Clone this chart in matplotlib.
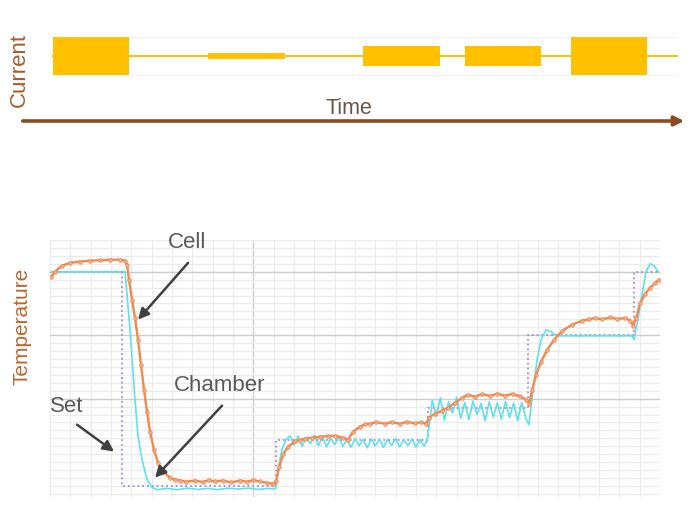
import matplotlib

matplotlib.use("Agg")
import matplotlib.pyplot as plt
import numpy as np

plt.rcParams["font.family"] = ["Liberation Sans", "DejaVu Sans"]

# ---- top panel: current pulses (time in minutes, current relative) --------
PULSE_START = [3.4, 155.5, 308.0, 408.4, 512.7]
PULSE_END = [77.7, 231.2, 383.8, 483.1, 587.4]
PULSE_AMP = [1.0, 0.16, 0.55, 0.55, 1.0]
IDLE_SPAN = [3.4, 617.0]

# ---- bottom panel: temperatures (deg C) ------------------------------------
SET_T = [0, 71, 71, 222, 222, 372, 372, 470, 470, 574, 574, 600]
SET_TEMP = [40, 40, -27.5, -27.5, -13, -13, -3, -3, 20, 20, 40, 40]

CHAMBER_T = [0, 72, 73.8, 78.7, 83.6, 86.6, 90.5, 95.4, 100.3, 105.3,
             115, 125, 135, 145, 155, 165, 175, 185, 195, 205, 215, 222,
             224.3, 228.2, 232.1, 236.1,
             240, 244, 248, 252, 256, 260, 264, 268, 272, 276, 280, 284, 288,
             292, 296, 300, 304, 308, 312, 316, 320, 324, 328, 332, 336, 340,
             344, 348, 352, 356, 360, 364, 368, 371,
             374, 376, 380, 384, 388, 392, 396, 400, 404, 408, 412, 416, 420,
             424, 428, 432, 436, 440, 444, 448, 452, 456, 460, 464, 468,
             471.1, 475.2, 479.1, 483.0, 488.0, 492.9, 497.8, 572.5,
             574.4, 578.3, 582.3, 586.2, 590.2, 594.1, 598.1]
CHAMBER_TEMP = [40, 40, 40, 21.7, -0.3, -12, -19.2, -25.5, -28, -28.7,
                -28.3, -28.7, -28.2, -28.6, -28.3, -28.7, -28.2, -28.5, -28.2,
                -28.6, -28.3, -28.4,
                -22.4, -16, -12.9, -11.7,
                -14.6, -11.8, -15.0, -12.2, -14.2, -11.5, -14.8, -12.0, -15.2,
                -12.4, -14.5, -12.1, -15.0, -13.0, -15.3, -12.6, -14.8, -12.9,
                -15.5, -12.7, -14.9, -12.8, -15.4, -12.9, -14.7, -12.6, -15.2,
                -13.0, -14.8, -12.7, -15.3, -12.9, -15.0, -13.0,
                -6.0, -0.5, -5.5, 0.3, -6.8, -1.0, -4.5, 0.5, -6.2, -1.2, -6.6,
                -0.8, -5.0, -1.5, -6.9, -1.0, -5.8, -1.3, -6.5, -0.9, -6.0,
                -1.4, -7.0, -1.2, -6.2,
                -8.2, 2.8, 12.3, 18.6, 21.7, 21.1, 19.8, 19.8,
                18.6, 24.9, 32.8, 40.0, 42.5, 41.9, 40.0]

CELL_T = [1.0, 4.9, 11.8, 19.7, 29.5, 39.4, 49.2, 59.0, 68.9, 73.8, 75.8,
          77.7, 80.7, 83.6, 86.6, 89.5, 92.5, 95.4, 98.4, 102.3, 106.3, 111.2,
          118.1, 123.0, 127.9, 134.0, 142.7, 150.0, 156.0, 162.4, 170.0,
          178.0, 187.0, 194.0, 200.0, 206.6, 213.0, 219.4, 222.4,
          225.3, 229.3, 234.2, 241.1, 246.0, 250.9, 258.0, 265.7, 273.0,
          280.4, 288.3, 293.2, 298.2, 305.0, 310.0, 314.9, 321.0, 329.6,
          336.0, 344.4, 351.0, 359.2, 365.0, 370.0,
          372.9, 378.8, 385.7, 391.6, 398.5, 405.4, 411.0, 418.2, 425.0,
          433.0, 440.0, 447.7, 455.0, 462.5, 468.4, 471.3,
          474.3, 478.2, 483.1, 489.0, 495.9, 503.8, 513.6, 523.5, 530.0,
          536.3, 543.0, 551.0, 558.0, 565.8, 570.7, 573.7,
          576.6, 580.6, 585.5, 590.4, 595.3, 599.3]
CELL_TEMP = [38.4, 40.0, 41.9, 42.8, 43.2, 43.5, 43.6, 43.8, 43.8, 43.5, 42.2,
             37.5, 31.2, 25.5, 18.6, 10.7, 2.8, -4.1, -10.4, -16.1, -20.2,
             -23.0, -24.9, -25.5, -25.8, -26.2, -25.8, -26.3, -25.7, -26.1,
             -25.8, -26.4, -25.8, -26.2, -25.7, -26.1, -26.5, -26.8, -26.1,
             -21.7, -17.6, -15.1, -13.5, -13.0, -12.6, -12.3, -12.0, -11.8,
             -11.7, -12.3, -12.9, -10.4, -8.8, -8.1, -7.9, -7.4, -7.9,
             -7.4, -7.9, -7.3, -7.8, -7.4, -7.9,
             -6.0, -4.7, -3.8, -2.8, -1.3, 0.3, 1.2, 0.6, 1.5, 0.8, 1.6,
             0.9, 1.5, 0.7, -0.3, -1.6,
             2.8, 7.6, 11.7, 15.4, 18.6, 21.4, 23.3, 24.6, 25.0, 25.4, 25.0,
             25.6, 25.1, 25.4, 24.6, 23.0,
             25.5, 30.2, 33.1, 35.0, 36.5, 37.5]

BROWN = "#a65c2c"
GOLD = "#ffc000"
GRAY_TXT = "#595959"

fig = plt.figure(figsize=(6.88, 5.14), dpi=100)

# ---- current schematic ------------------------------------------------------
axc = fig.add_axes([20 / 688, 1 - 91 / 514, 668 / 688, 70 / 514])
axc.set_xlim(-29.5, 627.8)
axc.set_ylim(-1.84, 1.84)
axc.axis("off")
for yy in (-1.0, 1.0):
    axc.plot(IDLE_SPAN, [yy, yy], color="#f2f2f2", lw=0.8, zorder=0)
axc.plot(IDLE_SPAN, [0, 0], color=GOLD, lw=1.4, zorder=1)
widths = [e - s for s, e in zip(PULSE_START, PULSE_END)]
axc.bar(PULSE_START, [2 * a for a in PULSE_AMP], width=widths,
        bottom=[-a for a in PULSE_AMP], align="edge", color=GOLD, zorder=2)

fig.text(19 / 688, 1 - 70 / 514, "Current", rotation=90, ha="center",
         va="center", fontsize=16, color=BROWN)
fig.text(349 / 688, 1 - 108 / 514, "Time", ha="center", va="center",
         fontsize=15.5, color="#6a5547")
fig.patches.append(matplotlib.patches.FancyArrowPatch(
    (20 / 688, 1 - 121 / 514), (687 / 688, 1 - 121 / 514),
    transform=fig.transFigure, arrowstyle="-|>", mutation_scale=14,
    color="#8b4a1f", lw=2.6))

# ---- temperature chart -----------------------------------------------------
ax = fig.add_axes([50 / 688, 17 / 514, 610 / 688, 257 / 514])
ax.set_xlim(0, 600)
ax.set_ylim(-31, 50)
for s in ax.spines.values():
    s.set_visible(False)
ax.set_xticks([200])
ax.set_xticks(np.arange(0, 601, 20), minor=True)
ax.set_yticks([0, 20, 40])
ax.set_yticks(np.arange(-30, 50.1, 2.5), minor=True)
ax.tick_params(which="both", length=0, labelbottom=False, labelleft=False)
ax.grid(which="minor", color="#ebebeb", lw=0.8)
ax.grid(which="major", color="#cdcdcd", lw=1.0)
ax.set_axisbelow(True)

ax.plot(SET_T, SET_TEMP, color="#a88bc8", lw=1.3, ls=":", zorder=3)
ax.plot(CHAMBER_T, CHAMBER_TEMP, color="#5fe0ee", lw=1.2, zorder=4)
ax.plot(CELL_T, CELL_TEMP, color="#f08a4b", lw=1.7, marker="o", ms=2.6,
        mfc="#f6b089", mec="#ee8047", mew=0.5, zorder=5)

fig.text(22 / 688, 1 - 326 / 514, "Temperature", rotation=90, ha="center",
         va="center", fontsize=15, color="#b8682e")

arrow_kw = dict(arrowstyle="-|>", color="#404040", lw=1.8, mutation_scale=16,
                shrinkA=0, shrinkB=0)
labels = [("Cell", (134.8, 49.1), (135.8, 42.8), (86.6, 24.9)),
          ("Chamber", (167.3, 4.1), (169.2, -2.2), (103.3, -24.9)),
          ("Set", (16.7, -2.5), (26.6, -8.2), (63.0, -16.7))]
for txt, pos, tail, head in labels:
    ax.text(*pos, txt, ha="center", va="center", fontsize=16, color=GRAY_TXT,
            clip_on=False, zorder=6)
    ax.annotate("", xy=head, xytext=tail, arrowprops=arrow_kw, zorder=6)

fig.savefig("out.png", dpi=100)
plt.close(fig)
